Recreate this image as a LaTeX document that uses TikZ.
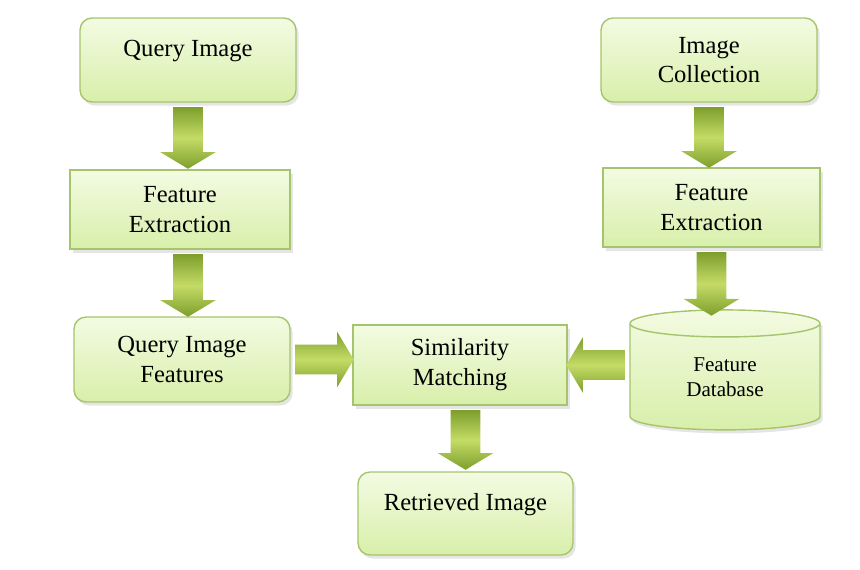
\documentclass[tikz,border=0pt]{standalone}
\usepackage{fontspec}
\setmainfont{Liberation Serif}
\usetikzlibrary{shapes.geometric,shapes.arrows,calc,shadows}

\definecolor{boxtop}{HTML}{F3FBE2}
\definecolor{boxbot}{HTML}{D8EFAA}
\definecolor{boxline}{HTML}{A6C46C}
\definecolor{arrowdark}{HTML}{7E9E2C}
\definecolor{arrowlight}{HTML}{C4DC66}

\tikzset{
  box/.style={draw=boxline, line width=0.8pt, top color=boxtop, bottom color=boxbot,
    font=\fontsize{14}{17}\selectfont, align=center, inner sep=0pt,
    drop shadow={shadow xshift=1.5pt, shadow yshift=-2pt, opacity=0.25, fill=black!40}},
  roundbox/.style={box, rounded corners=0.24cm},
  bigarrow/.style={single arrow, draw=none, inner xsep=0pt, inner ysep=0.29cm,
    single arrow head extend=0.26cm, single arrow tip angle=118,
    top color=arrowdark, bottom color=arrowdark, middle color=arrowlight},
}

%% block arrow from one anchor to another
\newcommand{\flowarrow}[2]{%
  \path let \p1=(#1), \p2=(#2),
    \n1={veclen(\x2-\x1,\y2-\y1)}, \n2={atan2(\y2-\y1,\x2-\x1)} in
    node[bigarrow, minimum height=\n1, rotate=\n2] at ($(\p1)!0.5!(\p2)$) {};}

\begin{document}
\begin{tikzpicture}[x=0.02cm, y=-0.02cm]
\useasboundingbox (0,0) rectangle (860,569);

%% query side
\node[roundbox, minimum width=4.32cm, minimum height=1.68cm, text depth=0.46cm] (qimg) at (188,60) {Query Image};
\node[box, minimum width=4.4cm, minimum height=1.58cm] (fel) at (180,209.5) {Feature\\Extraction};
\node[roundbox, minimum width=4.32cm, minimum height=1.7cm] (qif) at (182,359.5) {Query Image\\Features};

%% collection side
\node[roundbox, minimum width=4.32cm, minimum height=1.68cm] (icol) at (709,60) {Image\\Collection};
\node[box, minimum width=4.34cm, minimum height=1.58cm] (fer) at (711.5,207.5) {Feature\\Extraction};
\node[box, cylinder, shape border rotate=90, aspect=0.35, minimum width=3.8cm, minimum height=2.4cm,
  font=\fontsize{12}{14}\selectfont] (fdb) at (725,377) {Feature\\Database};

%% matching
\node[box, minimum width=4.28cm, minimum height=1.6cm] (sim) at (460,365) {Similarity\\Matching};
\node[roundbox, minimum width=4.3cm, minimum height=1.66cm, text depth=0.46cm] (ret) at (465.5,513.5) {Retrieved Image};

%% arrows
\flowarrow{qimg.south}{$(qimg.south |- fel.north)+(0,-5)$}
\flowarrow{qimg.south |- fel.south}{$(qimg.south |- qif.north)+(0,-4)$}
\flowarrow{qif.east}{$(qif.east -| sim.west)+(-3,0)$}
\flowarrow{sim.east -| fdb.west}{$(sim.east)+(3,0)$}
\flowarrow{ret.north |- sim.south}{$(ret.north)+(0,-6)$}
\flowarrow{icol.south}{$(icol.south |- fer.north)+(0,-4)$}
\flowarrow{fer.south}{$(fer.south |- fdb.north)+(0,2)$}
\end{tikzpicture}
\end{document}
